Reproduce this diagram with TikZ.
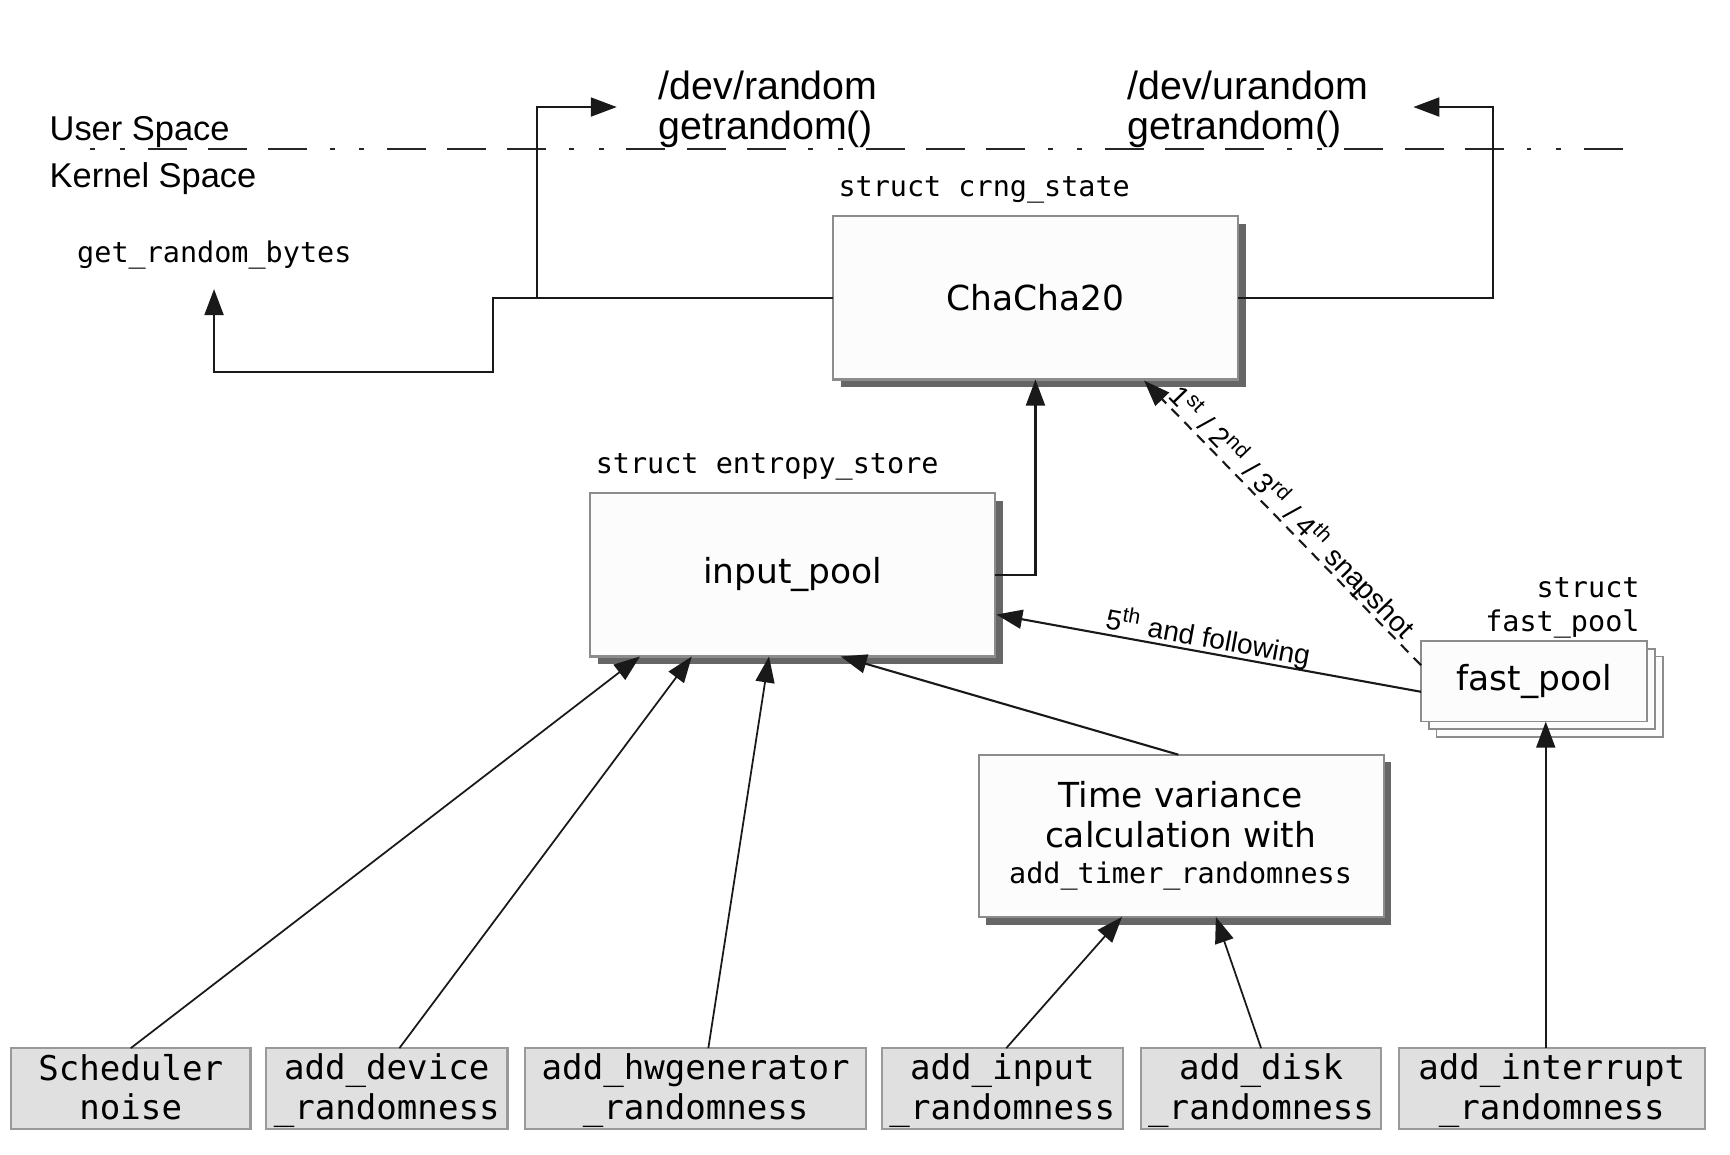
\documentclass[tikz,border=0pt]{standalone}
\usepackage{fontspec}
\setmainfont{DejaVu Sans}
\setmonofont{DejaVu Sans Mono}
\newfontfamily\libsans{Liberation Sans}
\usetikzlibrary{arrows.meta,fit,calc}
\begin{document}
\begin{tikzpicture}[x=0.110332mm,y=-0.110332mm,
  every node/.style={inner sep=0pt,outer sep=0pt},
  conn/.style={line width=0.6pt,draw=black!90},
  arr/.style={conn,-{Triangle[length=7.4pt,width=5.4pt]}},
  mainbox/.style={draw=black!45,fill=black!1,line width=0.6pt,font=\fontsize{9.8}{11.5}\selectfont,align=center},
  shadowbox/.style={fill=black!60,draw=none},
  stackbox/.style={draw=black!45,fill=black!1,line width=0.5pt},
  srcbox/.style={draw=black!40,fill=black!12,line width=0.6pt,font=\ttfamily\fontsize{9.7}{11}\selectfont,align=center},
  srctxt/.style={font=\ttfamily\fontsize{9.7}{11.3}\selectfont,align=center,text depth=2.5pt},
  monotxt/.style={font=\ttfamily\fontsize{8.1}{9.5}\selectfont},
  labsans/.style={font=\libsans\fontsize{8}{10}\selectfont},
  spacetxt/.style={font=\libsans\fontsize{9.8}{11}\selectfont},
  devtxt/.style={font=\libsans\fontsize{11.2}{11.4}\selectfont,align=left},
]
\useasboundingbox (0,0) rectangle (1568,1046);

% user / kernel boundary
\coordinate (bl) at (82,135);
\coordinate (br) at (1478,135);
\draw[line width=0.8pt,black!85,dash pattern=on 1.4pt off 7pt on 1.4pt off 6.5pt on 11.1pt off 6pt on 11.1pt off 6pt on 11.1pt off 6.5pt] (bl) -- (br);
\node[spacetxt,anchor=base west] (us) at (45,127) {User Space};
\node[spacetxt,anchor=base west] (ks) at (45,170) {Kernel Space};

\node[devtxt,anchor=west] (dr) at (597,99) {/dev/random\\getrandom()};
\node[devtxt,anchor=west] (du) at (1022,99) {/dev/urandom\\getrandom()};

\node[monotxt,anchor=west] (grb) at (70,231) {get\_random\_bytes};

% ChaCha20
\node[monotxt,anchor=west] (crl) at (760,172) {struct crng\_state};
\fill[shadowbox] (762,203) rectangle (1129,351);
\node[mainbox,fit={(755,196) (1122,344)}] (cc) {};
\node[font=\fontsize{9.8}{11.5}\selectfont] at (cc.center) {ChaCha20};

% input_pool
\node[monotxt,anchor=west] (esl) at (540,423) {struct entropy\_store};
\fill[shadowbox] (542,454) rectangle (909,602);
\node[mainbox,fit={(535,447) (902,595)}] (ip) {};
\node[font=\fontsize{9.8}{11.5}\selectfont] at (ip.center) {input\_pool};

% time variance
\fill[shadowbox] (894,691) rectangle (1261,838);
\node[mainbox,fit={(887,684) (1254,831)}] (tv) {};
\node[font=\fontsize{9.8}{11.4}\selectfont,align=center] at (1070,738) {Time variance\\calculation with};
\node[monotxt] at (1070,794) {add\_timer\_randomness};

% fast_pool stack
\node[monotxt,align=right,anchor=east] (fpl) at (1486,551) {struct\\fast\_pool};
\node[stackbox,fit={(1302,595) (1507,668)}] (fp3) {};
\node[stackbox,fit={(1295,588) (1500,661)}] (fp2) {};
\node[stackbox,fit={(1288,581) (1493,654)}] (fp) {};
\node[font=\fontsize{9.8}{11.5}\selectfont] at (fp.center) {fast\_pool};

% sources
\node[srcbox,fit={(10,950) (227,1023)}] (s1) {};
\node[srcbox,fit={(241,950) (460,1023)}] (s2) {};
\node[srcbox,fit={(476,950) (785,1023)}] (s3) {};
\node[srcbox,fit={(799,950) (1018,1023)}] (s4) {};
\node[srcbox,fit={(1034,950) (1252,1023)}] (s5) {};
\node[srcbox,fit={(1268,950) (1545,1023)}] (s6) {};
\node[srctxt] at ([yshift=-0.8pt]s1.center) {Scheduler\\noise};
\node[srctxt] at ([yshift=-0.8pt]s2.center) {add\_device\\\_randomness};
\node[srctxt] at ([yshift=-0.8pt]s3.center) {add\_hwgenerator\\\_randomness};
\node[srctxt] at ([yshift=-0.8pt]s4.center) {add\_input\\\_randomness};
\node[srctxt] at ([yshift=-0.8pt]s5.center) {add\_disk\\\_randomness};
\node[srctxt] at ([yshift=-0.8pt]s6.center) {add\_interrupt\\\_randomness};

% connectors: outputs of ChaCha20
\coordinate (k1) at (447,270);
\coordinate (k2) at (447,337);
\coordinate (k3) at (194,337);
\coordinate (grbtip) at (194,262);
\coordinate (j1) at (487,270);
\coordinate (j2) at (487,97);
\coordinate (drtip) at (559,97);
\coordinate (r1) at (1353,270);
\coordinate (r2) at (1353,97);
\coordinate (dutip) at (1281,97);
\draw[arr] (cc.west) -- (k1) -- (k2) -- (k3) -- (grbtip);
\draw[arr] (j1) -- (j2) -- (drtip);
\draw[arr] (cc.east) -- (r1) -- (r2) -- (dutip);

% input_pool -> ChaCha20
\draw[arr] (ip.east) -| (cc.south);

% fast_pool -> ChaCha20 (snapshots)
\coordinate (fpa) at (1288,603);
\coordinate (cctip) at (1037,345);
\draw[arr,dash pattern=on 3pt off 2.2pt] (fpa) -- (cctip);
\node[labsans,rotate=-45.8] (snap) at (1171,464) {1\textsuperscript{st} / 2\textsuperscript{nd} / 3\textsuperscript{rd} / 4\textsuperscript{th} snapshot};

% fast_pool -> input_pool
\coordinate (fpb) at (1288,627);
\coordinate (iptip) at (903,557);
\draw[arr] (fpb) -- (iptip);
\node[labsans,rotate=-10.3] (fol) at (1095,578) {5\textsuperscript{th} and following};

% sources -> input_pool
\coordinate (t1) at (580,595);
\coordinate (t2) at (627,595);
\coordinate (t3) at (697,595);
\coordinate (t4) at (762,595);
\coordinate (s2t) at (362,950);
\coordinate (s3t) at (642,950);
\coordinate (tvt) at (1068,684);
\draw[arr,line width=0.5pt] (s1.north) -- (t1);
\draw[arr,line width=0.5pt] (s2t) -- (t2);
\draw[arr,line width=0.5pt] (s3t) -- (t3);
\draw[arr] (tvt) -- (t4);

% sources -> time variance
\coordinate (u1) at (1017,831);
\coordinate (u2) at (1102,831);
\coordinate (s4t) at (912,950);
\draw[arr,line width=0.5pt] (s4t) -- (u1);
\draw[arr,line width=0.5pt] (s5.north) -- (u2);

% interrupt -> fast_pool
\coordinate (s6t) at (1401,950);
\coordinate (fptip) at (1401,654);
\draw[arr,line width=0.5pt] (s6t) -- (fptip);
\end{tikzpicture}
\end{document}
